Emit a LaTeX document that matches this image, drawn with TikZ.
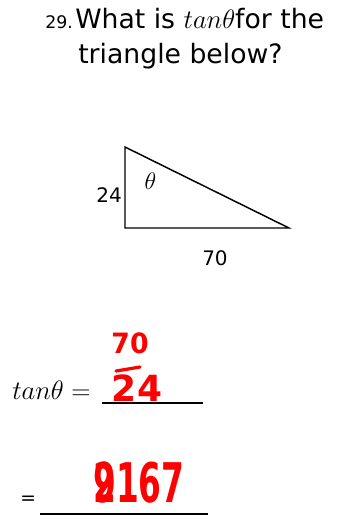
\documentclass[tikz,border=0pt]{standalone}
\usepackage{fix-cm}
\usepackage{fontspec}
\setmainfont{DejaVu Sans}
\definecolor{inkRed}{RGB}{255, 0, 0}
\usetikzlibrary{positioning}

\tikzset{
  txt/.style={inner sep=0pt, anchor=base west},
  ink/.style={inner sep=0pt, text=inkRed},
  blank/.style={line width=1.1pt},
}

\begin{document}
\begin{tikzpicture}[x=0.75pt, y=-0.75pt]
  \useasboundingbox (0,0) rectangle (336,521);
  % question
  \node[txt, font=\fontsize{13}{15}\selectfont] (num) at (45,28) {29.};
  \node[txt, font=\fontsize{20}{22}\selectfont] (qa) at (75,28) {What is $tan\theta$for the};
  \node[txt, font=\fontsize{20}{22}\selectfont] (qb) at (78,63) {triangle below?};
  % triangle
  \coordinate (top) at (125,147);
  \coordinate (corner) at (125,228);
  \coordinate (tip) at (289,228);
  \draw[line width=1.1pt] (top) -- (corner) -- (tip) -- cycle;
  \node[inner sep=0pt, anchor=east, font=\fontsize{15}{17}\selectfont] (opp) at (122,195) {24};
  \node[inner sep=0pt, font=\fontsize{18}{20}\selectfont] (ang) at (150.5,181) {$\theta$};
  \node[inner sep=0pt, font=\fontsize{15}{17}\selectfont] (adj) at (215,258) {70};
  % answer lines
  \node[txt, font=\fontsize{20}{22}\selectfont] (eqa) at (12,399) {$tan\theta =$};
  \coordinate (la) at (102,403);
  \coordinate (lb) at (203,403);
  \draw[blank] (la) -- (lb);
  \node[txt, font=\fontsize{14}{16}\selectfont] (eqb) at (20,504) {=};
  \coordinate (lc) at (40,514);
  \coordinate (ld) at (208,514);
  \draw[blank] (lc) -- (ld);
  % handwritten answer
  \node[ink, font=\fontsize{20}{22}\selectfont\bfseries] (numer) at (130,343) {\scalebox{1}[1.05]{70}};
  \coordinate (bara) at (116,371);
  \coordinate (barb) at (140,367);
  \draw[inkRed, line width=2.4pt, line cap=round] (bara) -- (barb);
  \node[ink, font=\fontsize{27}{29}\selectfont\bfseries] (denom) at (137,388) {24};
  \node[ink, anchor=west, font=\fontsize{41}{43}\selectfont\bfseries] (nine) at (93,483) {\scalebox{0.6}[1]{9}};
  \node[ink, anchor=west, font=\fontsize{41}{43}\selectfont\bfseries] (res) at (93,483) {\scalebox{0.6}[1]{2167}};
\end{tikzpicture}
\end{document}
